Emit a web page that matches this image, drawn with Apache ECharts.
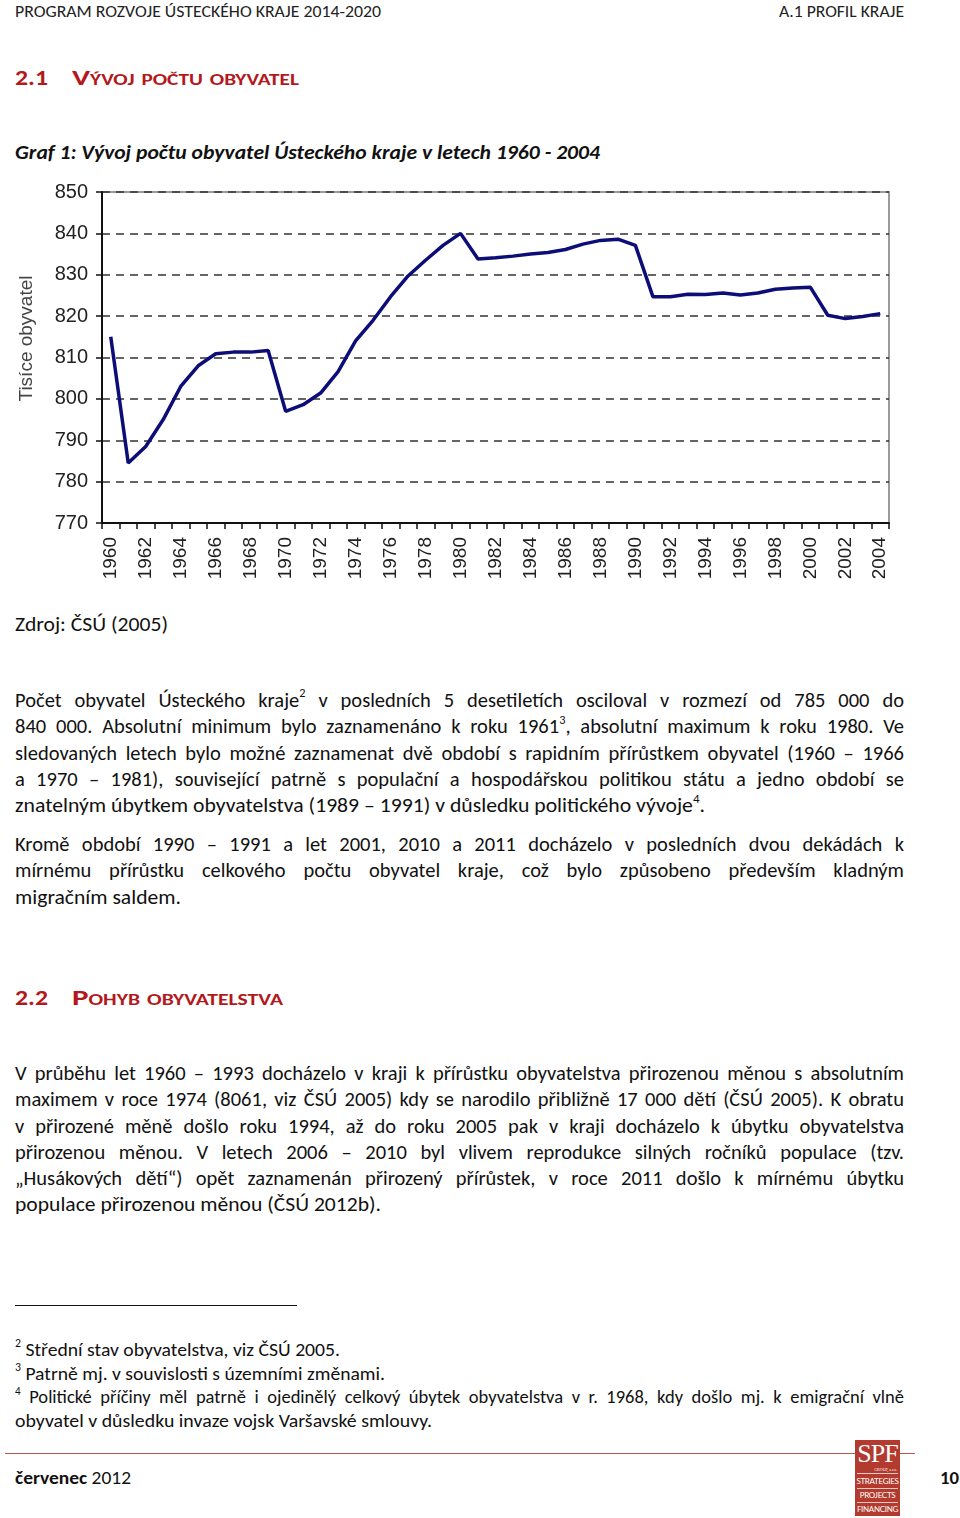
<!DOCTYPE html>
<html>
<head>
<meta charset="utf-8">
<script src="https://cdn.jsdelivr.net/npm/echarts@6/dist/echarts.min.js"></script>
<style>
  html, body { margin: 0; padding: 0; background: #fff; }
  body { width: 960px; height: 1518px; position: relative; overflow: hidden;
    font-family: Carlito, Calibri, Lato, "Open Sans", sans-serif; color: #111; }
  .abs { position: absolute; white-space: nowrap; }
  .fit { display: inline-block; transform-origin: 0 50%; }
  .red { color: #b3191c; font-weight: 700; font-size: 23px; }
  .sc { font-variant: small-caps; }
  .par { position: absolute; left: 15px; width: 889px; font-size: 20.5px; }
  .par .ln { height: 26.3px; line-height: 26.3px; white-space: nowrap; }
  .par .ln.j { text-align: justify; text-align-last: justify; }
  sup { font-size: 0.6em; line-height: 0; position: relative; top: -0.15em; vertical-align: super; }
  .foot { font-size: 18.5px; }
  .foot .ln { height: 23.7px; line-height: 23.7px; }
  #chart { position: absolute; left: 0; top: 180px; width: 960px; height: 420px; }
  #logo { position: absolute; left: 855px; top: 1440px; width: 45px; height: 76px;
    background: #b23a2e; color: #fff; text-align: center; font-family: "Liberation Serif", serif; }
</style>
</head>
<body>
<div class="abs" style="left:15px;top:1px;font-size:17px;color:#222"><span class="fit" data-w="366">PROGRAM ROZVOJE ÚSTECKÉHO KRAJE 2014-2020</span></div>
<div class="abs" style="left:779px;top:1px;font-size:17px;color:#222"><span class="fit" data-w="125">A.1 PROFIL KRAJE</span></div>

<div class="abs red" style="left:15px;top:63px"><span class="fit" data-w="33">2.1</span></div>
<div class="abs red sc" style="left:72px;top:63px"><span class="fit" data-w="227">Vývoj počtu obyvatel</span></div>

<div class="abs" style="left:15px;top:140px;font-size:20px;font-weight:700;font-style:italic"><span class="fit" data-w="585">Graf 1: Vývoj počtu obyvatel Ústeckého kraje v letech 1960 - 2004</span></div>

<div id="chart"></div>

<div class="abs" style="left:15px;top:611px;font-size:20.5px"><span class="fit" data-w="153">Zdroj: ČSÚ (2005)</span></div>

<div class="par" style="top:687px">
  <div class="ln j">Počet obyvatel Ústeckého kraje<sup>2</sup> v posledních 5 desetiletích osciloval v rozmezí od 785 000 do</div>
  <div class="ln j">840 000. Absolutní minimum bylo zaznamenáno k roku 1961<sup>3</sup>, absolutní maximum k roku 1980. Ve</div>
  <div class="ln j">sledovaných letech bylo možné zaznamenat dvě období s rapidním přírůstkem obyvatel (1960 – 1966</div>
  <div class="ln j">a 1970 – 1981), související patrně s populační a hospodářskou politikou státu a jedno období se</div>
  <div class="ln"><span class="fit" data-w="690">znatelným úbytkem obyvatelstva (1989 – 1991) v důsledku politického vývoje<sup>4</sup>.</span></div>
</div>

<div class="par" style="top:831px">
  <div class="ln j">Kromě období 1990 – 1991 a let 2001, 2010 a 2011 docházelo v posledních dvou dekádách k</div>
  <div class="ln j">mírnému přírůstku celkového počtu obyvatel kraje, což bylo způsobeno především kladným</div>
  <div class="ln"><span class="fit" data-w="166">migračním saldem.</span></div>
</div>

<div class="abs red" style="left:15px;top:983px"><span class="fit" data-w="33">2.2</span></div>
<div class="abs red sc" style="left:72px;top:983px"><span class="fit" data-w="211">Pohyb obyvatelstva</span></div>

<div class="par" style="top:1060px">
  <div class="ln j">V průběhu let 1960 – 1993 docházelo v kraji k přírůstku obyvatelstva přirozenou měnou s absolutním</div>
  <div class="ln j">maximem v roce 1974 (8061, viz ČSÚ 2005) kdy se narodilo přibližně 17 000 dětí (ČSÚ 2005). K obratu</div>
  <div class="ln j">v přirozené měně došlo roku 1994, až do roku 2005 pak v kraji docházelo k úbytku obyvatelstva</div>
  <div class="ln j">přirozenou měnou. V letech 2006 – 2010 byl vlivem reprodukce silných ročníků populace (tzv.</div>
  <div class="ln j">„Husákových dětí“) opět zaznamenán přirozený přírůstek, v roce 2011 došlo k mírnému úbytku</div>
  <div class="ln"><span class="fit" data-w="366">populace přirozenou měnou (ČSÚ 2012b).</span></div>
</div>

<div class="abs" style="left:15px;top:1305px;width:282px;height:1px;background:#111"></div>

<div class="par foot" style="top:1338px">
  <div class="ln"><span class="fit" data-w="325"><sup>2</sup> Střední stav obyvatelstva, viz ČSÚ 2005.</span></div>
  <div class="ln"><span class="fit" data-w="370"><sup>3</sup> Patrně mj. v souvislosti s územními změnami.</span></div>
  <div class="ln j"><sup>4</sup> Politické příčiny měl patrně i ojedinělý celkový úbytek obyvatelstva v r. 1968, kdy došlo mj. k emigrační vlně</div>
  <div class="ln"><span class="fit" data-w="417">obyvatel v důsledku invaze vojsk Varšavské smlouvy.</span></div>
</div>

<div class="abs" style="left:5px;top:1453px;width:910px;height:1px;background:#b8574c"></div>
<div id="logo">
  <div style="font-size:26px;line-height:26px;letter-spacing:-1px;margin-top:1px">SPF</div>
  <div style="font-size:4px;line-height:5px;text-align:right;padding-right:3px">GROUP, s.r.o.</div>
  <div style="height:1px;background:#e8c8c0;margin:1px 2px"></div>
  <div style="font-family:Lato,sans-serif;font-size:8px;line-height:13px;letter-spacing:-0.3px">STRATEGIES</div>
  <div style="height:1px;background:#e8c8c0;margin:0 2px"></div>
  <div style="font-family:Lato,sans-serif;font-size:8px;line-height:13px;letter-spacing:-0.3px">PROJECTS</div>
  <div style="height:1px;background:#e8c8c0;margin:0 2px"></div>
  <div style="font-family:Lato,sans-serif;font-size:8px;line-height:13px;letter-spacing:-0.3px">FINANCING</div>
</div>
<div class="abs" style="left:15px;top:1466px;font-size:19px"><span class="fit" data-w="116"><b>červenec</b> 2012</span></div>
<div class="abs" style="left:940px;top:1466px;font-size:19px;font-weight:700"><span class="fit" data-w="19">10</span></div>

<script>
// fit texts to the widths measured on the page
document.querySelectorAll('.fit').forEach(function (el) {
  var w = el.getBoundingClientRect().width
  var t = +el.getAttribute('data-w')
  if (w > 0 && t) el.style.transform = 'scaleX(' + (t / w) + ')'
})
document.querySelectorAll('.ln.j').forEach(function (el) {
  var probe = document.createElement('span')
  probe.style.whiteSpace = 'nowrap'
  probe.innerHTML = el.innerHTML
  el.innerHTML = ''
  el.appendChild(probe)
  var w = probe.getBoundingClientRect().width
  if (w > 889) {
    probe.style.display = 'inline-block'
    probe.style.transformOrigin = '0 50%'
    probe.style.transform = 'scaleX(' + (889 / w) + ')'
  } else {
    el.innerHTML = probe.innerHTML
  }
})

const years = []
for (let y = 1960; y <= 2004; y++) years.push(String(y))
// tisíce obyvatel
const population = [
  815, 784.5, 788.5, 795, 803, 808, 810.9, 811.3, 811.3, 811.7,
  797, 798.6, 801.4, 806.6, 814, 819, 824.7, 829.7, 833.5, 837.1,
  840, 833.8, 834.1, 834.5, 835, 835.4, 836.1, 837.4, 838.3, 838.6,
  837.1, 824.7, 824.7, 825.3, 825.2, 825.6, 825.1, 825.6, 826.5, 826.8,
  827, 820.2, 819.4, 819.9, 820.6
]
const yTicks = [770, 850, 10]

const chart = echarts.init(document.getElementById('chart'))
chart.setOption({
  animation: false,
  grid: {
    left: 102, top: 12, width: 787, height: 331,
    show: true, borderColor: '#9a9a9a', borderWidth: 2, backgroundColor: '#fff'
  },
  xAxis: {
    type: 'category',
    data: years,
    boundaryGap: true,
    axisLine: { lineStyle: { color: '#111', width: 2 } },
    axisTick: { show: true, interval: 0, length: 6, lineStyle: { color: '#111', width: 1.5 } },
    axisLabel: {
      interval: 1, rotate: 90, margin: 14,
      fontFamily: 'Liberation Sans, Arial, sans-serif', fontSize: 19, color: '#222'
    }
  },
  yAxis: {
    type: 'value',
    min: yTicks[0], max: yTicks[1], interval: yTicks[2],
    name: 'Tisíce obyvatel',
    nameLocation: 'middle',
    nameGap: 66,
    nameTextStyle: {
      fontFamily: 'Liberation Sans, Arial, sans-serif', fontSize: 19, color: '#444',
      padding: [0, 0, 0, 38]
    },
    axisLine: { show: true, lineStyle: { color: '#111', width: 2 } },
    axisTick: { show: true, length: 6, lineStyle: { color: '#111', width: 1.5 } },
    axisLabel: { margin: 14, fontFamily: 'Liberation Sans, Arial, sans-serif', fontSize: 20, color: '#222' },
    splitLine: { lineStyle: { color: '#333', width: 1.5, type: [8, 6] } }
  },
  series: [{
    type: 'line',
    data: population,
    symbol: 'none',
    lineStyle: { color: '#0d0d78', width: 3.5 }
  }]
})
</script>
</body>
</html>
